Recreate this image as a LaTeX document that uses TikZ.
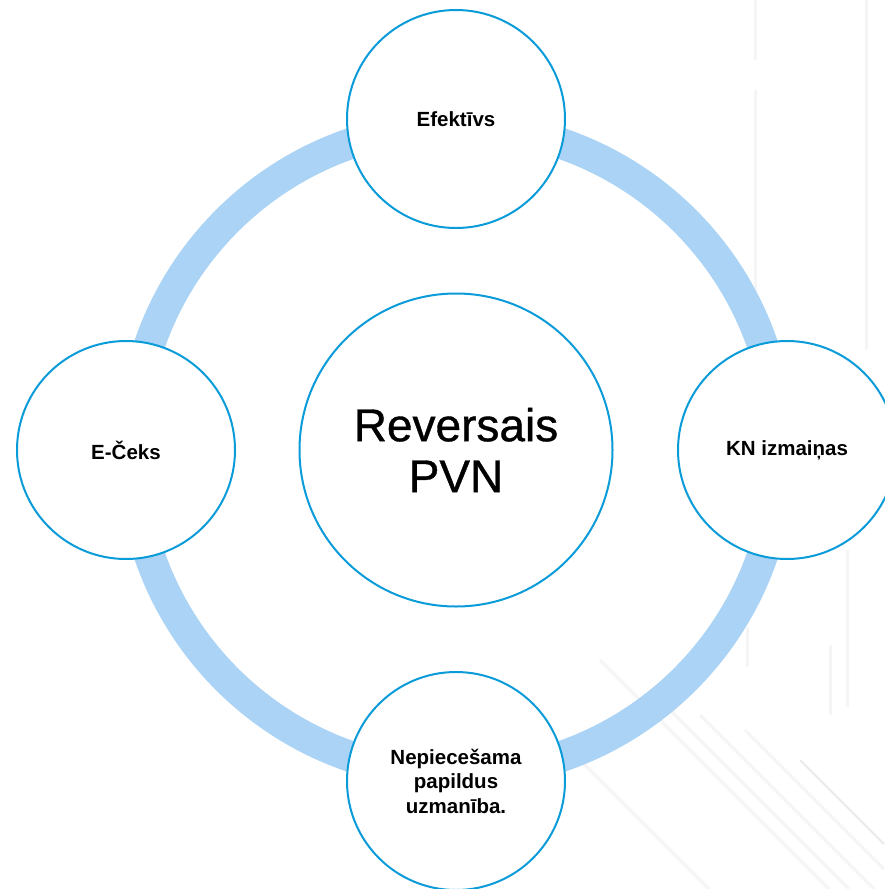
\documentclass[tikz,border=0pt]{standalone}
\usepackage{fontspec}
\setmainfont{Liberation Sans}
\newfontfamily\hubfont[FakeBold=0.8]{Liberation Sans}
\definecolor{ringblue}{HTML}{ABD3F5}
\definecolor{edgeblue}{HTML}{0A9BD9}
\definecolor{bgline}{HTML}{F5F5F5}
\definecolor{bgline2}{HTML}{EBEBEB}
\tikzset{
  sat/.style={circle, draw=edgeblue, line width=2pt, fill=white, minimum size=218pt, inner sep=0pt, align=center, font=\bfseries\fontsize{20.5}{24.5}\selectfont},
  hub/.style={circle, draw=edgeblue, line width=2pt, fill=white, minimum size=313pt, inner sep=0pt, align=center, font=\hubfont\fontsize{46}{51}\selectfont},
  ringline/.style={draw=ringblue, line width=31pt},
  faint/.style={draw=bgline, line width=3pt},
  faintdark/.style={draw=bgline2, line width=2pt}
}
\begin{document}
\begin{tikzpicture}[x=1pt,y=-1pt]
\useasboundingbox (0,0) rectangle (884,889);
\fill[white] (0,0) rectangle (884,889);
% faint background texture
\draw[faint] (755,0) -- (755,60);
\draw[faint] (755,90) -- (755,330);
\draw[faint] (866,0) -- (866,350);
\draw[faint] (747,627) -- (747,667);
\draw[faint] (847,550) -- (847,707);
\draw[faint] (830,645) -- (830,715);
\draw[faint] (600,660) -- (829,889);
\draw[faint] (650,690) -- (849,889);
\draw[faint] (700,715) -- (874,889);
\draw[faint] (745,730) -- (884,869);
\draw[faintdark] (800,760) -- (884,844);
\draw[faint] (580,760) -- (709,889);
% ring
\node[circle, minimum size=0pt, inner sep=0pt] (c0) at (456,450) {};
\draw[ringline] (c0) circle[radius=324];
% center
\node[hub] (hub) at (456,450) {Reversais\\PVN};
% satellites
\node[sat] (top) at (456,119) {Efektīvs};
\node[sat] (left) at (126,450) {E-Čeks};
\node[sat] (right) at (787,450) {KN izmaiņas};
\node[sat] (bottom) at (456,781) {Nepiecešama\\papildus\\uzmanība.};
\end{tikzpicture}
\end{document}
